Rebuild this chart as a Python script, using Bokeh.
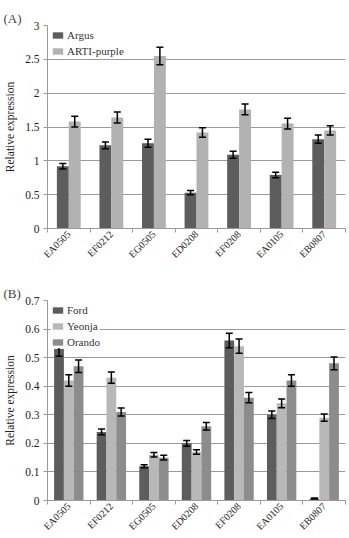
import numpy as np
from bokeh.plotting import figure
from bokeh.layouts import column
from bokeh.models import (ColumnDataSource, Range1d, FixedTicker, NumeralTickFormatter,
                          Whisker, Legend, LegendItem)
from bokeh.transform import dodge
from bokeh.embed import file_html
from bokeh.resources import INLINE

categories = ["EA0505", "EF0212", "EG0505", "ED0208", "EF0208", "EA0105", "EB0807"]

# Panel A
argus = [0.92, 1.23, 1.26, 0.53, 1.09, 0.79, 1.32]
argus_err = [0.04, 0.05, 0.06, 0.03, 0.05, 0.04, 0.06]
arti = [1.58, 1.64, 2.55, 1.42, 1.76, 1.55, 1.45]
arti_err = [0.08, 0.08, 0.13, 0.07, 0.08, 0.08, 0.07]

# Panel B
ford = [0.53, 0.24, 0.12, 0.20, 0.56, 0.30, 0.007]
ford_err = [0.025, 0.01, 0.005, 0.01, 0.025, 0.013, 0.002]
yeonja = [0.42, 0.43, 0.16, 0.17, 0.54, 0.34, 0.29]
yeonja_err = [0.02, 0.02, 0.008, 0.008, 0.025, 0.015, 0.013]
orando = [0.47, 0.31, 0.15, 0.26, 0.36, 0.42, 0.48]
orando_err = [0.022, 0.014, 0.008, 0.013, 0.018, 0.02, 0.022]

FONT = "Liberation Serif"
GRID = "#9a9a9a"


def make_fig(height, top, bottom, ymax, ystep, title):
    p = figure(width=349, height=height, output_backend="svg", toolbar_location=None,
               x_range=Range1d(-0.5, len(categories) - 0.5), y_range=Range1d(0, ymax),
               min_border_left=47, min_border_right=4, min_border_top=top,
               min_border_bottom=bottom)
    p.outline_line_color = None
    p.xgrid.grid_line_color = None
    p.ygrid.grid_line_color = GRID
    p.ygrid.grid_line_width = 1
    n = int(round(ymax / ystep))
    p.yaxis.ticker = FixedTicker(ticks=[round(i * ystep, 3) for i in range(n + 1)])
    p.yaxis.formatter = NumeralTickFormatter(format="0.[0]")
    p.xaxis.ticker = FixedTicker(ticks=list(range(len(categories))),
                                 minor_ticks=[i - 0.5 for i in range(len(categories) + 1)])
    p.xaxis.major_label_overrides = {i: c for i, c in enumerate(categories)}
    p.xaxis.major_label_orientation = np.pi / 4
    p.xaxis.major_tick_line_color = None
    p.xaxis.major_tick_out = 0
    p.xaxis.major_tick_in = 0
    p.xaxis.minor_tick_out = 4
    p.xaxis.minor_tick_in = 0
    p.xaxis.minor_tick_line_color = GRID
    p.yaxis.minor_tick_line_color = None
    p.yaxis.major_tick_out = 4
    p.yaxis.major_tick_in = 0
    p.yaxis.major_tick_line_color = GRID
    for ax in (p.xaxis, p.yaxis):
        ax.axis_line_color = GRID
        ax.major_label_text_font = FONT
        ax.major_label_text_font_size = "11.5px"
        ax.major_label_text_color = "#222222"
    p.xaxis.major_label_text_font_size = "10px"
    p.xaxis.major_label_standoff = 0
    p.yaxis.major_label_standoff = 4
    p.yaxis.axis_label = "Relative expression"
    p.yaxis.axis_label_text_font = FONT
    p.yaxis.axis_label_text_font_style = "normal"
    p.yaxis.axis_label_text_font_size = "11.5px"
    p.yaxis.axis_label_text_color = "#222222"
    p.yaxis.axis_label_standoff = 6
    p.title.text = title
    p.title.text_font = FONT
    p.title.text_font_size = "13px"
    p.title.text_font_style = "normal"
    p.title.standoff = 0
    p.title.offset = -44
    return p


def add_series(p, vals, errs, offset, width, color):
    src = ColumnDataSource(dict(idx=list(range(len(categories))), v=vals,
                                up=[a + b for a, b in zip(vals, errs)],
                                lo=[a - b for a, b in zip(vals, errs)]))
    r = p.vbar(x=dodge("idx", offset), top="v", width=width, source=src,
               fill_color=color, line_color=None)
    w = Whisker(source=src, base=dodge("idx", offset), upper="up", lower="lo",
                line_color="black", line_width=1.5, level="overlay")
    w.upper_head.size = 7
    w.lower_head.size = 7
    w.upper_head.line_width = 1.5
    w.lower_head.line_width = 1.5
    p.add_layout(w)
    return r


def add_legend(p, items):
    leg = Legend(items=[LegendItem(label=l, renderers=[r]) for l, r in items],
                 location="top_left", border_line_color=None, background_fill_alpha=1,
                 label_text_font=FONT, label_text_font_size="11px", label_text_color="#333333",
                 glyph_width=13, glyph_height=8, label_height=9, spacing=4, padding=4,
                 margin=4, label_standoff=3)
    p.add_layout(leg)


pa = make_fig(270, 25, 42, 3, 0.5, "(A)")
wa = 0.28
r1 = add_series(pa, argus, argus_err, -wa / 2, wa, "#5d5d5d")
r2 = add_series(pa, arti, arti_err, wa / 2, wa, "#b2b2b2")
add_legend(pa, [("Argus", r1), ("ARTI-purple", r2)])

pb = make_fig(268, 30, 37, 0.7, 0.1, "(B)")
wb = 0.23
s1 = add_series(pb, ford, ford_err, -wb, wb, "#5d5d5d")
s2 = add_series(pb, yeonja, yeonja_err, 0, wb, "#b8b8b8")
s3 = add_series(pb, orando, orando_err, wb, wb, "#8c8c8c")
add_legend(pb, [("Ford", s1), ("Yeonja", s2), ("Orando", s3)])

layout = column(pa, pb, spacing=0)
open("out.html", "w").write(file_html(layout, INLINE))
